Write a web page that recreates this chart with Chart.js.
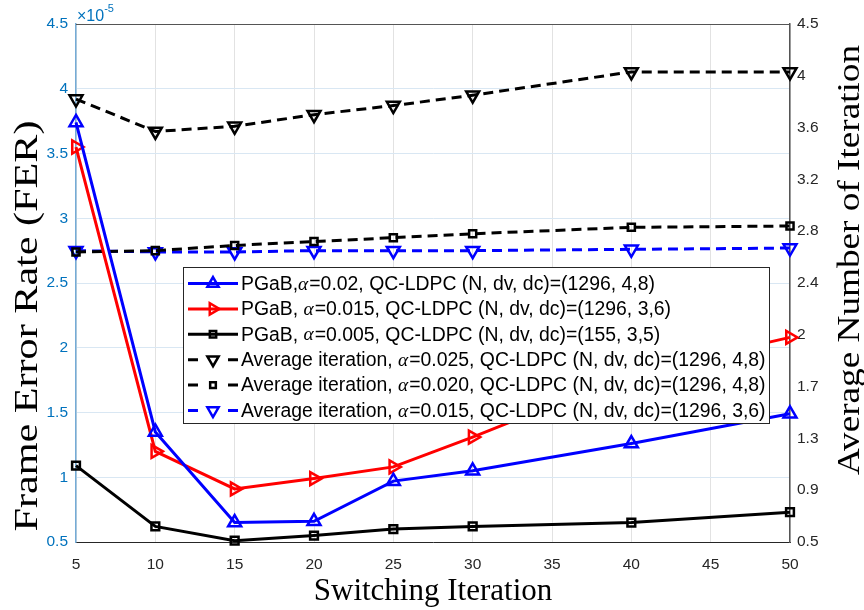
<!DOCTYPE html>
<html><head><meta charset="utf-8">
<script src="https://cdn.jsdelivr.net/npm/chart.js@4"></script>
<style>html,body{margin:0;padding:0;background:#fff}#wrap{width:864px;height:610px;position:relative}</style>
</head><body><div id="wrap"><canvas id="c"></canvas></div>
<script>
// ---- data ----
const switchingIter = [5, 10, 15, 20, 25, 30, 40, 50];
const ferPGaB002  = [3.74, 1.35, 0.65, 0.66, 0.97, 1.05, 1.26, 1.49];
const ferPGaB0015 = [3.55, 1.20, 0.91, 0.99, 1.08, 1.31, 1.80, 2.08];
const ferPGaB0005 = [1.09, 0.62, 0.51, 0.55, 0.60, 0.62, 0.65, 0.73];
const avgIter0025 = [3.92, 3.67, 3.71, 3.80, 3.87, 3.95, 4.13, 4.13];
const avgIter0020 = [2.74, 2.75, 2.79, 2.82, 2.85, 2.88, 2.93, 2.94];
const avgIter0015 = [2.75, 2.74, 2.74, 2.75, 2.75, 2.75, 2.76, 2.77];
const xTickValues = [5, 10, 15, 20, 25, 30, 35, 40, 45, 50];
const ferTickLabels  = ['0.5','1','1.5','2','2.5','3','3.5','4','4.5'];
const iterTickLabels = ['0.5','0.9','1.3','1.7','2','2.4','2.8','3.2','3.6','4','4.5'];
const seriesLabels = [
  'PGaB,α=0.02, QC-LDPC (N, dv, dc)=(1296, 4,8)',
  'PGaB, α=0.015, QC-LDPC (N, dv, dc)=(1296, 3,6)',
  'PGaB, α=0.005, QC-LDPC (N, dv, dc)=(155, 3,5)',
  'Average iteration, α=0.025, QC-LDPC (N, dv, dc)=(1296, 4,8)',
  'Average iteration, α=0.020, QC-LDPC (N, dv, dc)=(1296, 4,8)',
  'Average iteration, α=0.015, QC-LDPC (N, dv, dc)=(1296, 3,6)'
];
const xTitle = 'Switching Iteration';
const yLeftTitle = 'Frame Error Rate (FER)';
const yRightTitle = 'Average Number of Iteration';

const pts = arr => arr.map((v, i) => ({x: switchingIter[i], y: v}));
const SANS = '"Liberation Sans", Arial, Helvetica, sans-serif';
const SERIF = '"Liberation Serif", "Times New Roman", serif';
const BLUE = '#0000ff', RED = '#ff0000', BLACK = '#000000';
const AXBLUE = '#0072BD';

function ds(label, data, color, axis, style, rot, radius, dashed) {
  return {
    label, data: pts(data), yAxisID: axis,
    borderColor: color, borderWidth: 3, borderDash: dashed ? [10, 6] : [],
    pointStyle: style, pointRotation: rot, pointRadius: radius,
    pointBorderColor: color, pointBackgroundColor: 'rgba(0,0,0,0)',
    pointBorderWidth: 2.5, pointHoverRadius: radius, tension: 0, fill: false,
    clip: false
  };
}

const datasets = [
  ds(seriesLabels[0], ferPGaB002, BLUE, 'yL', 'triangle', 0, 7.5, false),
  ds(seriesLabels[1], ferPGaB0015, RED, 'yL', 'triangle', 90, 7.5, false),
  ds(seriesLabels[2], ferPGaB0005, BLACK, 'yL', 'rect', 0, 5.5, false),
  ds(seriesLabels[3], avgIter0025, BLACK, 'yR', 'triangle', 180, 7.5, true),
  ds(seriesLabels[4], avgIter0020, BLACK, 'yR', 'rect', 0, 5, true),
  ds(seriesLabels[5], avgIter0015, BLUE, 'yR', 'triangle', 180, 7.5, true)
];

function drawRich(ctx, text, x, y, size) {
  const parts = text.split('α');
  let cx = x;
  parts.forEach((p, i) => {
    ctx.font = size + 'px ' + SANS;
    ctx.fillText(p, cx, y);
    cx += ctx.measureText(p).width;
    if (i < parts.length - 1) {
      ctx.font = 'italic ' + size + 'px ' + SERIF;
      ctx.fillText('α', cx, y);
      cx += ctx.measureText('α').width + 1;
    }
  });
}

const decor = {
  id: 'decor',
  afterDatasetsDraw(chart) {
    const ctx = chart.ctx, a = chart.chartArea;
    ctx.save();
    // top box line
    ctx.strokeStyle = '#555555'; ctx.lineWidth = 1;
    ctx.beginPath(); ctx.moveTo(a.left, a.top + 0.5); ctx.lineTo(a.right, a.top + 0.5); ctx.stroke();

    // legend
    const bx = 183.5, by = 267.5, bw = 586, bh = 156;
    ctx.fillStyle = '#ffffff'; ctx.fillRect(bx, by, bw, bh);
    ctx.strokeStyle = '#262626'; ctx.lineWidth = 1; ctx.strokeRect(bx, by, bw, bh);
    const rowY0 = 283.5, rowH = 25.4;
    chart.data.datasets.forEach((d, i) => {
      const y = rowY0 + i * rowH;
      ctx.strokeStyle = d.borderColor; ctx.lineWidth = 3; ctx.setLineDash([]);
      ctx.beginPath();
      if (d.borderDash && d.borderDash.length) {
        ctx.moveTo(188, y); ctx.lineTo(198, y);
        ctx.moveTo(228, y); ctx.lineTo(238, y);
      } else {
        ctx.moveTo(188, y); ctx.lineTo(238, y);
      }
      ctx.stroke();
      ctx.lineWidth = d.pointBorderWidth;
      ctx.fillStyle = 'rgba(0,0,0,0)';
      Chart.helpers.drawPoint(ctx, {
        pointStyle: d.pointStyle, rotation: d.pointRotation,
        radius: d.pointRadius - 1, borderWidth: d.pointBorderWidth
      }, 213, y);
      ctx.fillStyle = '#000000';
      ctx.textBaseline = 'middle'; ctx.textAlign = 'left';
      drawRich(ctx, d.label, 241, y + 1, 19.4);
    });

    // exponent label
    ctx.fillStyle = AXBLUE; ctx.textBaseline = 'alphabetic'; ctx.textAlign = 'left';
    ctx.font = '16px ' + SANS; ctx.fillText('×10', 77, 21);
    const w = ctx.measureText('×10').width;
    ctx.font = '11px ' + SANS; ctx.fillText('-5', 77 + w, 12);

    // axis titles
    ctx.fillStyle = '#000000';
    ctx.font = '31px ' + SERIF; ctx.textAlign = 'center';
    ctx.fillText(xTitle, (a.left + a.right) / 2, 600);

    ctx.save();
    ctx.translate(37, 326); ctx.rotate(-Math.PI / 2); ctx.scale(1.24, 1);
    ctx.font = '34px ' + SERIF; ctx.textAlign = 'center'; ctx.textBaseline = 'alphabetic';
    ctx.fillText(yLeftTitle, 0, 0);
    ctx.restore();

    ctx.save();
    ctx.translate(859, 260); ctx.rotate(-Math.PI / 2); ctx.scale(1.2, 1);
    ctx.font = '31px ' + SERIF; ctx.textAlign = 'center'; ctx.textBaseline = 'alphabetic';
    ctx.fillText(yRightTitle, 0, 0);
    ctx.restore();

    ctx.restore();
  }
};

new Chart(document.getElementById('c'), {
  type: 'line',
  data: { datasets },
  options: {
    responsive: true, maintainAspectRatio: false, animation: false,
    layout: { padding: { top: 24, left: 0, right: 0, bottom: 0 } },
    plugins: { legend: { display: false }, tooltip: { enabled: false } },
    scales: {
      x: {
        type: 'linear', min: 5, max: 50,
        afterFit: s => { s.height = 68; },
        afterBuildTicks: s => { s.ticks = xTickValues.map(v => ({value: v})); },
        ticks: { color: '#262626', font: { family: SANS, size: 15.5 }, padding: 13, maxRotation: 0 },
        grid: { color: '#e2e2e2', lineWidth: 1, drawTicks: false },
        border: { color: '#262626', width: 1 }
      },
      yL: {
        type: 'linear', position: 'left', min: 0.5, max: 4.5,
        afterFit: s => { s.width = 76; },
        ticks: { stepSize: 0.5, color: AXBLUE, font: { family: SANS, size: 15.5 }, padding: 8,
          callback: (v, i) => ferTickLabels[i] },
        grid: { color: '#d9e7f3', lineWidth: 1, drawTicks: false },
        border: { color: '#74abd6', width: 1.5 }
      },
      yR: {
        type: 'linear', position: 'right', min: 0.5, max: 4.5,
        afterFit: s => { s.width = 74; },
        ticks: { stepSize: 0.4, color: '#262626', font: { family: SANS, size: 15.5 }, padding: 7,
          callback: (v, i) => iterTickLabels[i] },
        grid: { display: false, drawTicks: false },
        border: { color: '#555555', width: 1.5 }
      }
    }
  },
  plugins: [decor]
});
</script>
</body></html>
